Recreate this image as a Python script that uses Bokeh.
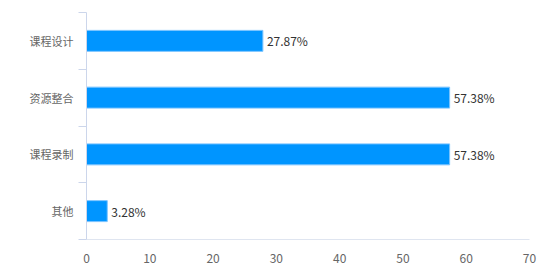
from bokeh.plotting import figure
from bokeh.models import ColumnDataSource, Range1d, FixedTicker, LabelSet
from bokeh.core.properties import value
from bokeh.embed import file_html
from bokeh.resources import INLINE

categories = ["其他", "课程录制", "资源整合", "课程设计"]
values = [3.28, 57.38, 57.38, 27.87]
x_ticks = [0, 10, 20, 30, 40, 50, 60, 70]

ypos = [i + 0.5 for i in range(len(categories))]
labels = ["%.2f%%" % v for v in values]
src = ColumnDataSource(dict(y=ypos, v=values, lab=labels, cat=categories))

p = figure(width=556, height=265, output_backend="svg", toolbar_location=None,
           x_range=Range1d(0, 70), y_range=Range1d(0, len(categories)),
           min_border_left=86, min_border_right=27, min_border_top=12, min_border_bottom=24)
p.outline_line_color = None
p.background_fill_color = "white"
p.border_fill_color = "white"
p.xgrid.grid_line_color = None
p.ygrid.grid_line_color = None

p.hbar(y="y", right="v", left=0, height=0.37, source=src,
       fill_color="#0095ff", line_color="#7cc4ff", line_width=1)

p.add_layout(LabelSet(x="v", y="y", text="lab", source=src, x_offset=4, y_offset=0,
                      text_baseline="middle", text_align="left", text_font_size="12px",
                      text_color="#333333", text_font=value("Noto Sans CJK SC")))

# x axis
p.xaxis.ticker = FixedTicker(ticks=x_ticks)
p.xaxis.axis_line_color = "#dfe5f0"
p.xaxis.axis_line_width = 1
p.xaxis.major_tick_line_color = None
p.xaxis.minor_tick_line_color = None
p.xaxis.major_label_text_font_size = "12px"
p.xaxis.major_label_text_color = "#666666"
p.xaxis.major_label_text_font = "Noto Sans CJK SC"
p.xaxis.major_label_standoff = 8

# y axis: labels at band centers, ticks at band boundaries
p.yaxis.ticker = FixedTicker(ticks=ypos, minor_ticks=list(range(len(categories) + 1)))
p.yaxis.major_label_overrides = {y: c for y, c in zip(ypos, categories)}
p.yaxis.axis_line_color = "#ccd6eb"
p.yaxis.major_tick_line_color = None
p.yaxis.minor_tick_line_color = "#ccd6eb"
p.yaxis.minor_tick_out = 8
p.yaxis.minor_tick_in = 0
p.yaxis.major_tick_out = 8
p.yaxis.major_label_text_font_size = "11px"
p.yaxis.major_label_text_color = "#666666"
p.yaxis.major_label_text_font = "Noto Sans CJK SC"
p.yaxis.major_label_standoff = 5

open("out.html", "w").write(file_html(p, INLINE))
